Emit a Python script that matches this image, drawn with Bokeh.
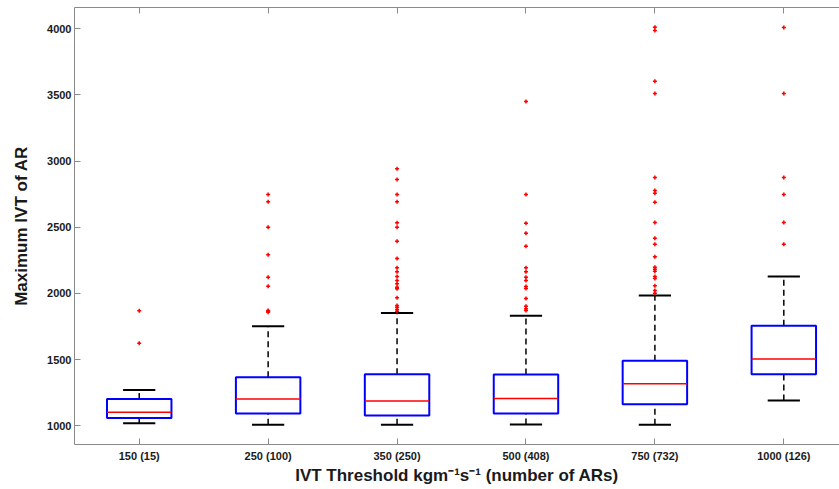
from bokeh.plotting import figure
from bokeh.models import ColumnDataSource, FixedTicker, LinearAxis, Range1d
from bokeh.embed import file_html
from bokeh.resources import INLINE

# ---- data ----
thresholds = ["150 (15)", "250 (100)", "350 (250)", "500 (408)", "750 (732)", "1000 (126)"]
lower_whisker = [1020, 1008, 1008, 1010, 1008, 1191]
q1 = [1060, 1093, 1078, 1093, 1164, 1390]
median = [1103, 1202, 1187, 1207, 1318, 1505]
q3 = [1203, 1367, 1390, 1388, 1491, 1756]
upper_whisker = [1270, 1752, 1853, 1831, 1984, 2128]

out_150 = [1624, 1870]
out_250 = [1858, 1866, 1871, 2055, 2123, 2292, 2501, 2693, 2748]
out_350 = [1866, 1879, 1896, 1909, 1967, 2035, 2047, 2073, 2098, 2128, 2164,
           2194, 2264, 2395, 2501, 2534, 2693, 2748, 2861, 2942]
out_500 = [1871, 1884, 1904, 1962, 2038, 2053, 2098, 2123, 2164, 2194, 2357,
           2456, 2531, 2748, 3451]
out_750 = [2002, 2022, 2058, 2113, 2128, 2168, 2183, 2199, 2277, 2372, 2418,
           2536, 2690, 2758, 2778, 2876, 3511, 3604, 3987, 4012]
out_1000 = [2372, 2536, 2748, 2876, 3511, 4010]
outliers = [out_150, out_250, out_350, out_500, out_750, out_1000]

y_ticks = [1000, 1500, 2000, 2500, 3000, 3500, 4000]

# ---- derived sources ----
pos = list(range(1, len(thresholds) + 1))
box_w = 0.5
cap_w = 0.25
src = ColumnDataSource(dict(
    x=pos,
    bl=[p - box_w / 2 for p in pos], br=[p + box_w / 2 for p in pos],
    cl=[p - cap_w / 2 for p in pos], cr=[p + cap_w / 2 for p in pos],
    lw=lower_whisker, q1=q1, med=median, q3=q3, uw=upper_whisker,
))
ox, oy = [], []
for p, vals in zip(pos, outliers):
    for v in vals:
        ox.append(p)
        oy.append(v)
osrc = ColumnDataSource(dict(x=ox, y=oy))

FONT = "Liberation Sans"
AX_GRAY = "#8a8a8a"
TXT = "#1a1a1a"

p = figure(width=839, height=489, output_backend="svg", toolbar_location=None,
           x_range=Range1d(0.498, 6.432), y_range=Range1d(859, 4161),
           x_axis_type=None, y_axis_type=None,
           min_border_left=74, min_border_top=7, min_border_right=0,
           min_border_bottom=45,
           background_fill_color="white", border_fill_color="white")
p.outline_line_color = None
p.xgrid.visible = False
p.ygrid.visible = False

xt = FixedTicker(ticks=pos)
labels = {p_: t for p_, t in zip(pos, thresholds)}

xaxis = LinearAxis(ticker=xt, major_label_overrides=labels,
                   axis_label="IVT Threshold kgm⁻¹s⁻¹ (number of ARs)")
xaxis.major_tick_in = 6
xaxis.major_tick_out = 0
xaxis.minor_tick_line_color = None
xaxis.major_label_standoff = 5
xaxis.axis_label_standoff = 1
xaxis.major_label_text_font = FONT
xaxis.major_label_text_font_size = "11px"
xaxis.major_label_text_font_style = "bold"
xaxis.major_label_text_color = TXT
xaxis.axis_label_text_font = FONT
xaxis.axis_label_text_font_size = "17px"
xaxis.axis_label_text_font_style = "bold"
xaxis.axis_label_text_color = TXT
xaxis.axis_line_color = AX_GRAY
xaxis.major_tick_line_color = AX_GRAY
p.add_layout(xaxis, "below")

yaxis = LinearAxis(ticker=FixedTicker(ticks=y_ticks), axis_label="Maximum IVT of AR")
yaxis.major_tick_in = 6
yaxis.major_tick_out = 0
yaxis.minor_tick_line_color = None
yaxis.major_label_standoff = 3
yaxis.axis_label_standoff = 13
yaxis.major_label_text_font = FONT
yaxis.major_label_text_font_size = "11px"
yaxis.major_label_text_font_style = "bold"
yaxis.major_label_text_color = TXT
yaxis.axis_label_text_font = FONT
yaxis.axis_label_text_font_size = "17px"
yaxis.axis_label_text_font_style = "bold"
yaxis.axis_label_text_color = TXT
yaxis.axis_line_color = AX_GRAY
yaxis.major_tick_line_color = AX_GRAY
p.add_layout(yaxis, "left")

# top frame edge with inward ticks, no labels
top = LinearAxis(ticker=xt)
top.major_tick_in = 6
top.major_tick_out = 0
top.minor_tick_line_color = None
top.major_label_text_font_size = "1px"
top.major_label_text_color = None
top.major_label_standoff = 0
top.axis_line_color = AX_GRAY
top.major_tick_line_color = AX_GRAY
p.add_layout(top, "above")

# whiskers (dashed)
p.segment(x0="x", x1="x", y0="q3", y1="uw", source=src,
          line_color="black", line_width=1.5, line_dash="6 4")
p.segment(x0="x", x1="x", y0="lw", y1="q1", source=src,
          line_color="black", line_width=1.5, line_dash="6 4")
# caps
p.segment(x0="cl", x1="cr", y0="uw", y1="uw", source=src,
          line_color="black", line_width=2)
p.segment(x0="cl", x1="cr", y0="lw", y1="lw", source=src,
          line_color="black", line_width=2)
# boxes
p.vbar(x="x", width=box_w, bottom="q1", top="q3", source=src,
       fill_color=None, line_color="#0000ff", line_width=2)
# medians
p.segment(x0="bl", x1="br", y0="med", y1="med", source=src,
          line_color="#ff0000", line_width=1.5)
# outliers
p.scatter(x="x", y="y", source=osrc, marker="cross", size=4,
          line_color="#ff0000", line_width=1.5)

open("out.html", "w").write(file_html(p, INLINE))
